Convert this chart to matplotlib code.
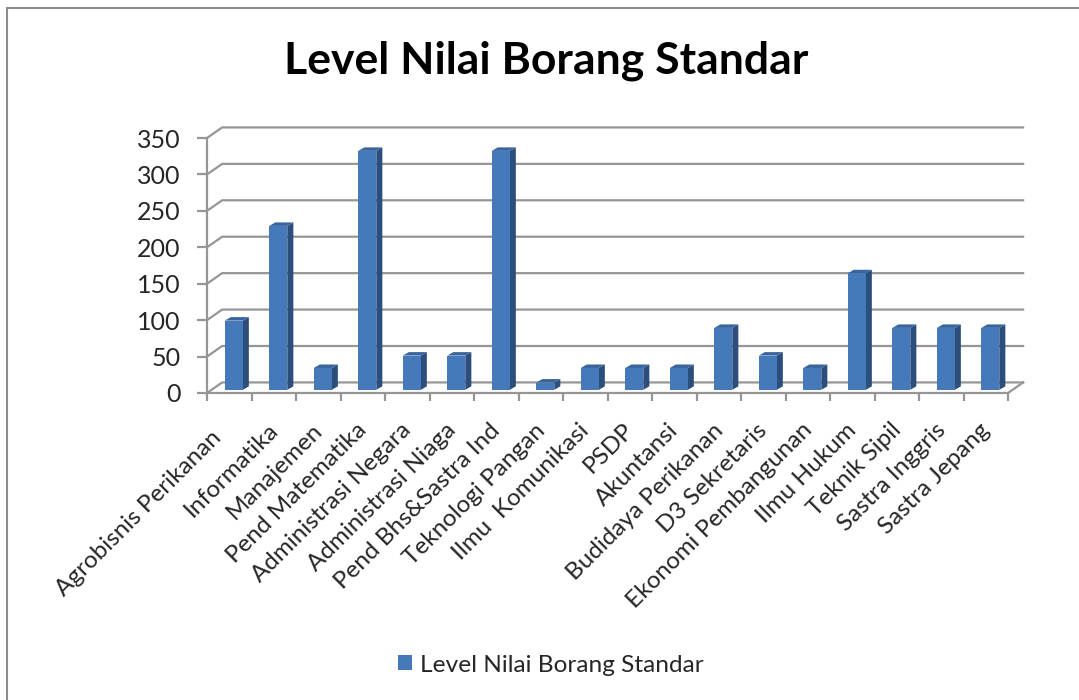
import matplotlib
matplotlib.use('Agg')
import matplotlib.pyplot as plt
from matplotlib.patches import Patch, Polygon, Rectangle
from matplotlib.transforms import ScaledTranslation

plt.rcParams['font.family'] = ['Lato', 'DejaVu Sans']

categories = ['Agrobisnis Perikanan', 'Informatika', 'Manajemen',
              'Pend Matematika', 'Administrasi Negara', 'Administrasi Niaga',
              'Pend Bhs&Sastra Ind', 'Teknologi Pangan', 'Ilmu  Komunikasi',
              'PSDP', 'Akuntansi', 'Budidaya Perikanan', 'D3 Sekretaris',
              'Ekonomi Pembangunan', 'Ilmu Hukum', 'Teknik Sipil',
              'Sastra Inggris', 'Sastra Jepang']
values = [95, 225, 30, 328, 47, 47, 328, 10, 30, 30, 30, 85, 47, 30, 160, 85,
          85, 85]
yticks = [0, 50, 100, 150, 200, 250, 300, 350]
title = 'Level Nilai Borang Standar'

W, H = 1079, 700
FRONT, SIDE, TOP = '#4579BA', '#2B4E7C', '#38659E'
GRID = '#969696'
TEXT = '#262626'

fig = plt.figure(figsize=(W / 100, H / 100), dpi=100, facecolor='white')
fig.add_artist(Rectangle((6.5 / W, -0.01), 1.1, 1 - 7.5 / H + 0.01,
                         transform=fig.transFigure, fc='white', ec='#8c8c8c',
                         lw=1.5, zorder=-1))

# axes = the front plane of the fake 3d box
left, right, top, bottom = 207, 1008, 138, 393
ax = fig.add_axes([left / W, 1 - bottom / H, (right - left) / W,
                   (bottom - top) / H])
ax.set_xlim(0, 18)
ax.set_ylim(0, 350)
ax.patch.set_visible(False)

n = len(categories)
depth_x = 0.34
depth_y = 14.5

for s in ['top', 'right']:
    ax.spines[s].set_visible(False)
for s in ['left', 'bottom']:
    ax.spines[s].set_color(GRID)
    ax.spines[s].set_linewidth(1.6)

# back wall grid and the diagonals on the side wall
for v in yticks:
    ax.plot([0, depth_x, n + depth_x], [v, v + depth_y, v + depth_y],
            color=GRID, lw=1.6, clip_on=False, zorder=1)
ax.plot([n, n + depth_x], [0, depth_y], color=GRID, lw=1.6, clip_on=False,
        zorder=1)

# bars, front plane sits 0.3 into the depth
width = 18 / 44.5
for i, v in enumerate(values):
    x0 = i + 0.5 - width / 2 + 0.3 * depth_x
    x1 = x0 + width
    y0 = 0.3 * depth_y
    y1 = y0 + v
    dx = 0.4 * depth_x
    dy = 0.33 * depth_y
    ax.add_patch(Polygon([(x1, y0), (x1 + dx, y0 + dy), (x1 + dx, y1 + dy),
                          (x1, y1)], fc=SIDE, ec='none', zorder=3,
                         clip_on=False))
    ax.add_patch(Polygon([(x0, y1), (x0 + dx, y1 + dy), (x1 + dx, y1 + dy),
                          (x1, y1)], fc=TOP, ec='none', zorder=3,
                         clip_on=False))
    ax.add_patch(Rectangle((x0, y0), width, v, fc=FRONT, ec='none', zorder=4,
                           clip_on=False))

ax.set_yticks(yticks)
ax.set_xticks(range(n + 1))
ax.set_xticklabels([])
ax.set_xticks([i + 0.35 for i in range(n)], minor=True)
ax.set_xticklabels(categories, minor=True, rotation=45, ha='right',
                   rotation_mode='anchor', fontsize=17.5, color=TEXT)
ax.tick_params(axis='x', which='major', length=6, width=1.6, color=GRID)
ax.tick_params(axis='x', which='minor', length=0, pad=19)
ax.tick_params(axis='y', length=7, width=1.6, color=GRID, labelsize=18,
               labelcolor=TEXT, pad=12)

# first label sits a bit lower left than the others
first = ax.get_xticklabels(which='minor')[0]
first.set_transform(first.get_transform()
                    + ScaledTranslation(-12 / 100, -7 / 100,
                                        fig.dpi_scale_trans))

fig.text(546 / W, 1 - 61 / H, title, ha='center', va='center', fontsize=32,
         fontweight='bold', color='black')

fig.legend(handles=[Patch(fc=FRONT, ec='none', label=title)], frameon=False,
           loc='center', bbox_to_anchor=(550.5 / W, 1 - 665 / H), fontsize=17.6,
           handlelength=0.58, handleheight=0.58, handletextpad=0.33,
           labelcolor=TEXT)

fig.savefig('out.png', dpi=100)
